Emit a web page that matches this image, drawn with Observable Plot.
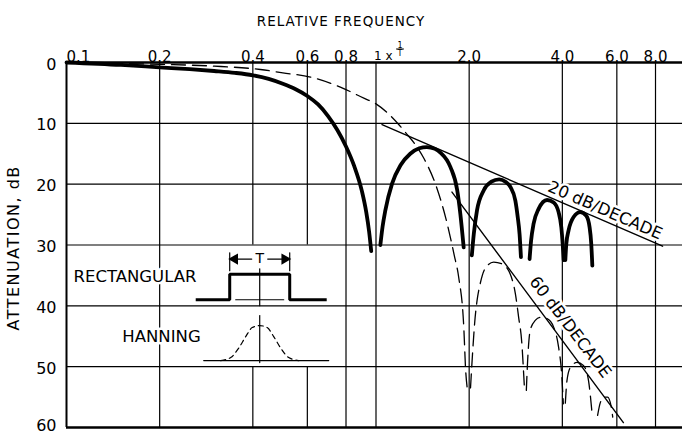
<!DOCTYPE html>
<html>
<head>
<meta charset="utf-8">
<script src="https://cdn.jsdelivr.net/npm/d3@7"></script>
<script src="https://cdn.jsdelivr.net/npm/@observablehq/plot@0.6"></script>
<style>
  html, body { margin: 0; padding: 0; background: #fff; }
  #chart svg { display: block; }
  .spaced text { letter-spacing: 1px; }
  .ylabel text { letter-spacing: 1.5px; }
</style>
</head>
<body>
<div id="chart"></div>
<script>
// Frequency axis (relative to 1/T) and attenuation axis (dB, growing downward)
const xTicks = [0.1, 0.2, 0.4, 0.6, 0.8, 1, 2, 4, 6, 8];
const xTickLabels = ["0.1", "0.2", "0.4", "0.6", "0.8", "1 x", "2.0", "4.0", "6.0", "8.0"];
const yTicks = [0, 10, 20, 30, 40, 50, 60];

// Rectangular window: main lobe and side lobes, [relative frequency, attenuation dB]
const rectMainLobe = [[0.1, 0.0], [0.15, 0.4], [0.2, 0.8], [0.25, 1.1], [0.3, 1.4], [0.35, 1.7], [0.4, 2.1], [0.45, 2.7], [0.5, 3.5], [0.55, 4.4], [0.6, 5.5], [0.65, 6.9], [0.7, 8.8], [0.75, 11.1], [0.8, 13.8], [0.85, 17.0], [0.9, 21.1], [0.93, 24.6], [0.95, 27.8], [0.965, 31.0]];
const rectSideLobe1 = [[1.033, 30.0], [1.05, 27.0], [1.072, 24.3], [1.127, 19.9], [1.2, 16.9], [1.29, 15.0], [1.38, 14.1], [1.46, 13.9], [1.55, 14.2], [1.614, 14.8], [1.74, 17.2], [1.83, 21.0], [1.873, 24.9], [1.92, 30.4]];
const rectSideLobe2 = [[2.04, 31.7], [2.07, 28.2], [2.12, 24.3], [2.23, 21.0], [2.36, 19.6], [2.5, 19.2], [2.62, 19.6], [2.72, 20.5], [2.82, 22.7], [2.87, 25.4], [2.91, 28.2], [2.94, 32.0]];
const rectSideLobe3 = [[3.135, 32.3], [3.17, 29.3], [3.23, 26.5], [3.35, 24.1], [3.57, 22.6], [3.75, 23.0], [3.89, 24.6], [3.97, 27.1], [4.01, 29.8], [4.04, 32.5]];
const rectSideLobe4 = [[4.09, 32.5], [4.12, 29.8], [4.19, 27.6], [4.35, 25.4], [4.57, 24.6], [4.78, 25.2], [4.9, 27.1], [4.96, 29.8], [5.0, 33.4]];

// Hanning window: main lobe and side lobes
const hannMainLobe = [[0.1, 0.0], [0.2, 0.3], [0.3, 0.6], [0.423, 1.15], [0.5, 1.7], [0.614, 2.4], [0.767, 4.06], [0.917, 5.9], [1.0, 6.8], [1.09, 8.3], [1.18, 10.1], [1.25, 11.6], [1.34, 13.5], [1.426, 15.7], [1.567, 20.4], [1.683, 25.7], [1.79, 31.7], [1.85, 35.3], [1.92, 43.2], [1.95, 50.9], [1.97, 53.4]];
const hannSideLobe1 = [[2.02, 53.5], [2.05, 48.0], [2.09, 42.0], [2.13, 38.5], [2.17, 36.4], [2.25, 33.9], [2.4, 32.8], [2.55, 33.1], [2.71, 34.7], [2.82, 38.0], [2.89, 41.9], [2.96, 46.2], [3.0, 51.2], [3.02, 53.9]];
const hannSideLobe2 = [[3.06, 53.9], [3.09, 49.0], [3.15, 44.0], [3.27, 42.4], [3.4, 41.9], [3.57, 42.1], [3.75, 43.5], [3.89, 46.8], [3.98, 51.2], [4.03, 56.1]];
const hannSideLobe3 = [[4.09, 56.0], [4.14, 52.3], [4.25, 50.1], [4.46, 49.3], [4.68, 49.8], [4.86, 52.3], [4.98, 57.2]];
const hannSideLobe4 = [[5.2, 58.0], [5.3, 56.0], [5.45, 55.0], [5.6, 55.0], [5.75, 56.5], [5.82, 58.3]];

// Side-lobe envelope asymptotes
const asymptote20 = [[1.046, 10.2], [8.43, 30.2]];
const asymptote60 = [[1.76, 21.3], [6.3, 59.2]];

// Annotation text
const slopeLabels = [
  {f: 5.5, db: 24.3, text: "20 dB/DECADE", angle: 23.5},
  {f: 4.24, db: 43.5, text: "60 dB/DECADE", angle: 52.5}
];

// ---- layout ----
const W = 682, H = 435;
const M = {top: 62, right: -3, bottom: 8, left: 66};
const xDomain = [0.1, 10], yDomain = [0, 60];
const xRange = [M.left, W - M.right], yRange = [M.top, H - M.bottom];
const xs = d3.scaleLog().domain(xDomain).range(xRange);
const ys = d3.scaleLinear().domain(yDomain).range(yRange);

const toRows = (lobes) => lobes.flatMap((pts, i) => pts.map(([f, db]) => ({f, db, lobe: i})));
const rectRows = toRows([rectMainLobe, rectSideLobe1, rectSideLobe2, rectSideLobe3, rectSideLobe4]);
const hannRows = toRows([hannMainLobe, hannSideLobe1, hannSideLobe2, hannSideLobe3, hannSideLobe4]);
const asymRows = toRows([asymptote20, asymptote60]);

// Small window-shape icons, laid out in pixel offsets around an anchor in (f, dB)
const place = (f0, db0) => ([dx, dy]) => ({f: xs.invert(xs(f0) + dx), db: ys.invert(ys(db0) + dy)});
const rectIcon = place(0.421, 39);
const hannIcon = place(0.421, 49);
const pulseOutline = [[-64, 0], [-30, 0], [-30, -25.5], [30, -25.5], [30, 0], [67, 0]].map(rectIcon);
const pulseThin = [
  [[-24, 0], [24, 0]],
  [[0, -31], [0, 6]],
  [[-30, -47], [-30, -29]],
  [[30, -47], [30, -29]],
  [[-24, -40.7], [-8, -40.7]],
  [[8, -40.7], [24, -40.7]]
].flatMap((seg, i) => seg.map(rectIcon).map(p => ({...p, seg: i})));
const arrowHeads = [[-25, -40.7, -90], [25, -40.7, 90]].map(([dx, dy, r]) => ({...rectIcon([dx, dy]), r}));
const hannBell = [[-39, 0], [-29, -3], [-21, -12.5], [-14, -24], [-7.5, -33], [0, -35], [7.5, -33], [14, -24], [21, -12.5], [29, -3], [39, 0]].map(hannIcon);
const hannThin = [
  [[-56, 0], [69, 0]],
  [[0, -45], [0, 2]]
].flatMap((seg, i) => seg.map(hannIcon).map(p => ({...p, seg: i})));

// Vertical grid lines; the 0.4 and 0.6 lines are interrupted behind the icons
const iconGapFreqs = [0.4, 0.6];
const xGrid = xTicks.filter(f => f > 0.1).flatMap(f =>
  iconGapFreqs.includes(f) ? [{f, y1: 0, y2: 30}, {f, y1: 50, y2: 60}] : [{f, y1: 0, y2: 60}]);

const xTickRows = xTicks.map((f, i) => ({f, label: xTickLabels[i]}));
const frac = place(1, 0);

const font = "DejaVu Sans, Verdana, sans-serif";
const halo = {fill: "#000", stroke: "#fff", strokeWidth: 5, paintOrder: "stroke"};

const chart = Plot.plot({
  width: W,
  height: H,
  marginTop: M.top, marginRight: M.right, marginBottom: M.bottom, marginLeft: M.left,
  style: {fontFamily: font, background: "#fff", color: "#000", overflow: "visible"},
  x: {type: "log", domain: xDomain, range: xRange, axis: null},
  y: {domain: yDomain, range: yRange, axis: null},
  marks: [
    // grid
    Plot.ruleX(xGrid, {x: "f", y1: "y1", y2: "y2", stroke: "#000", strokeWidth: 1.2}),
    Plot.ruleY(yTicks.filter(d => d > 0 && d < 60), {y: d => d, stroke: "#000", strokeWidth: 1.2}),
    // frame: top, bottom, left
    Plot.ruleY([0], {stroke: "#000", strokeWidth: 2.6}),
    Plot.ruleY([60], {stroke: "#000", strokeWidth: 2.4}),
    Plot.ruleX([0.1], {stroke: "#000", strokeWidth: 2}),

    // asymptotes
    Plot.line(asymRows, {x: "f", y: "db", z: "lobe", stroke: "#000", strokeWidth: 1.4}),

    // window spectra
    Plot.line(hannRows, {x: "f", y: "db", z: "lobe", stroke: "#000", strokeWidth: 1.3, strokeDasharray: "14,7", curve: "monotone-x"}),
    Plot.line(rectRows, {x: "f", y: "db", z: "lobe", stroke: "#000", strokeWidth: 3.8, curve: "monotone-x"}),

    // slope labels with a white halo that breaks the grid behind them
    Plot.text(slopeLabels, {x: "f", y: "db", text: "text", rotate: "angle", fontSize: 16.5, ...halo}),

    // icon: rectangular window
    Plot.line(pulseThin, {x: "f", y: "db", z: "seg", stroke: "#000", strokeWidth: 1.2}),
    Plot.line(pulseOutline, {x: "f", y: "db", stroke: "#000", strokeWidth: 3, strokeLinejoin: "miter", strokeLinecap: "butt"}),
    Plot.dot(arrowHeads, {x: "f", y: "db", rotate: "r", symbol: "triangle", r: 4.2, fill: "#000", stroke: "none"}),
    Plot.text([rectIcon([0, -41])], {x: "f", y: "db", text: () => "T", fontSize: 14, ...halo, strokeWidth: 3}),
    Plot.text([place(0.1, 35.2)([7, 0])], {x: "f", y: "db", text: () => "RECTANGULAR", textAnchor: "start", fontSize: 16.5, ...halo}),

    // icon: Hanning window
    Plot.line(hannThin, {x: "f", y: "db", z: "seg", stroke: "#000", strokeWidth: 1.2}),
    Plot.line(hannBell, {x: "f", y: "db", stroke: "#000", strokeWidth: 1.2, strokeDasharray: "5,4", curve: "monotone-x"}),
    Plot.text([place(0.2, 45)([41, 0])], {x: "f", y: "db", text: () => "HANNING", textAnchor: "end", fontSize: 16.5, ...halo}),

    // y tick labels
    Plot.text(yTicks.filter(d => d < 60), {x: 0.1, y: d => d, text: d => String(d), textAnchor: "end", dx: -10, dy: 2, fontSize: 16, fill: "#000"}),
    Plot.text(yTicks.filter(d => d === 60), {x: 0.1, y: d => d, text: d => String(d), textAnchor: "end", dx: -10, dy: -2, fontSize: 16, fill: "#000"}),

    // x tick labels along the top
    Plot.text(xTickRows.filter(d => d.f === 0.1), {x: "f", text: "label", frameAnchor: "top", textAnchor: "start", dy: -11, fontSize: 15, fill: "#000"}),
    Plot.text(xTickRows.filter(d => d.f === 1), {x: "f", text: "label", frameAnchor: "top", textAnchor: "start", dx: -2, dy: -11, fontSize: 12, fill: "#000"}),
    Plot.text(xTickRows.filter(d => d.f !== 0.1 && d.f !== 1), {x: "f", text: "label", frameAnchor: "top", dy: -11, fontSize: 15, fill: "#000"}),
    // the 1/T fraction after "1 x"
    Plot.text([frac([24, -17])], {x: "f", y: "db", text: () => "1", fontSize: 8, fill: "#000"}),
    Plot.text([frac([24, -9])], {x: "f", y: "db", text: () => "T", fontSize: 8, fill: "#000"}),
    Plot.line([frac([20.5, -13.5]), frac([27.5, -13.5])], {x: "f", y: "db", stroke: "#000", strokeWidth: 1}),

    // axis titles
    Plot.text(["RELATIVE FREQUENCY"], {frameAnchor: "top", dx: -35, dy: -46, fontSize: 13.5, fill: "#000", className: "spaced"}),
    Plot.text([place(0.1, 0)([-53, 268])], {x: "f", y: "db", text: () => "ATTENUATION, dB", rotate: -90, textAnchor: "start",
      fontSize: 16, fill: "#000", className: "ylabel"})
  ]
});

document.getElementById("chart").appendChild(chart);
</script>
</body>
</html>
